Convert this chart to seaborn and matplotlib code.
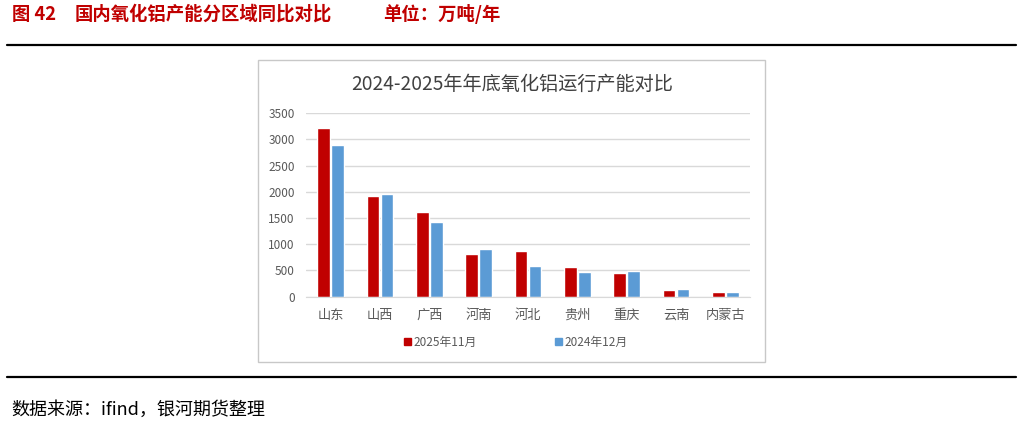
import pandas as pd
import seaborn as sns
import matplotlib.pyplot as plt
from matplotlib.patches import Rectangle
from matplotlib.lines import Line2D

# Data

regions = ["山东", "山西", "广西", "河南", "河北", "贵州", "重庆", "云南", "内蒙古"]
cap_2025_11 = [3225, 1915, 1620, 815, 878, 560, 452, 122, 95]
cap_2024_12 = [2895, 1955, 1425, 905, 573, 471, 485, 147, 95]
series_names = ["2025年11月", "2024年12月"]
yticks = [0, 500, 1000, 1500, 2000, 2500, 3000, 3500]

df = pd.DataFrame({
    "地区": regions * 2,
    "产能": cap_2025_11 + cap_2024_12,
    "时间": [series_names[0]] * len(regions) + [series_names[1]] * len(regions),
})

sns.set_style("white")
plt.rcParams['font.family'] = ['Noto Sans CJK SC', 'DejaVu Sans']

W, H = 1022, 423
fig = plt.figure(figsize=(W / 100, H / 100), dpi=100)

# page header / footer
red = "#C00000"
blue = "#5B9BD5"
fig.text(12 / W, 1 - 14 / H, "图 42", color=red,
         fontsize=13.2, fontweight="bold", va="center", ha="left")
fig.text(75 / W, 1 - 14 / H, "国内氧化铝产能分区域同比对比", color=red,
         fontsize=13.2, fontweight="bold", va="center", ha="left")
fig.text(383 / W, 1 - 14 / H, "单位：万吨/年", color=red,
         fontsize=13.2, fontweight="bold", va="center", ha="left")
fig.add_artist(Line2D([7 / W, 1016 / W], [1 - 45 / H, 1 - 45 / H], color="black", lw=1.6))
fig.add_artist(Line2D([7 / W, 1016 / W], [1 - 377 / H, 1 - 377 / H], color="black", lw=1.6))
fig.text(11 / W, 1 - 410 / H, "数据来源：ifind，银河期货整理", color="black",
         fontsize=13, va="center", ha="left")

# chart frame
fig.add_artist(Rectangle((258 / W, 1 - 362 / H), (765 - 258) / W, (362 - 60) / H,
                         transform=fig.transFigure, fill=False, edgecolor="#C8C8C8", lw=1))
fig.text(512 / W, 1 - 84 / H, "2024-2025年年底氧化铝运行产能对比", color="#404040",
         fontsize=13.8, va="center", ha="center")

# plot area
ax = fig.add_axes([306 / W, 1 - 296.5 / H, 444 / W, 183.3 / H])
sns.barplot(data=df, x="地区", y="产能", hue="时间", palette=[red, blue],
            width=0.56, gap=0.08, ax=ax, legend=False, saturation=1)
ax.set_xlim(-0.5, len(regions) - 0.5)
ax.set_ylim(0, 3500)
ax.set_yticks(yticks)
ax.set_xlabel("")
ax.set_ylabel("")
ax.yaxis.grid(True, color="#D9D9D9", lw=1)
ax.set_axisbelow(True)
for s in ["top", "right", "left"]:
    ax.spines[s].set_visible(False)
ax.spines["bottom"].set_color("#D9D9D9")
ax.tick_params(axis="y", labelsize=8.5, colors="#595959", length=0, pad=8)
ax.tick_params(axis="x", labelsize=9.5, colors="#595959", length=0, pad=9)

# legend
handles = [Rectangle((0, 0), 1, 1, color=red), Rectangle((0, 0), 1, 1, color=blue)]
fig.legend(handles, series_names, loc="center", bbox_to_anchor=(516 / W, 1 - 342 / H),
           ncol=2, frameon=False, fontsize=8.5, handlelength=0.6, handleheight=0.6,
           handletextpad=0.2, columnspacing=6.6, labelcolor="#595959")

plt.savefig("out.png", dpi=100)
